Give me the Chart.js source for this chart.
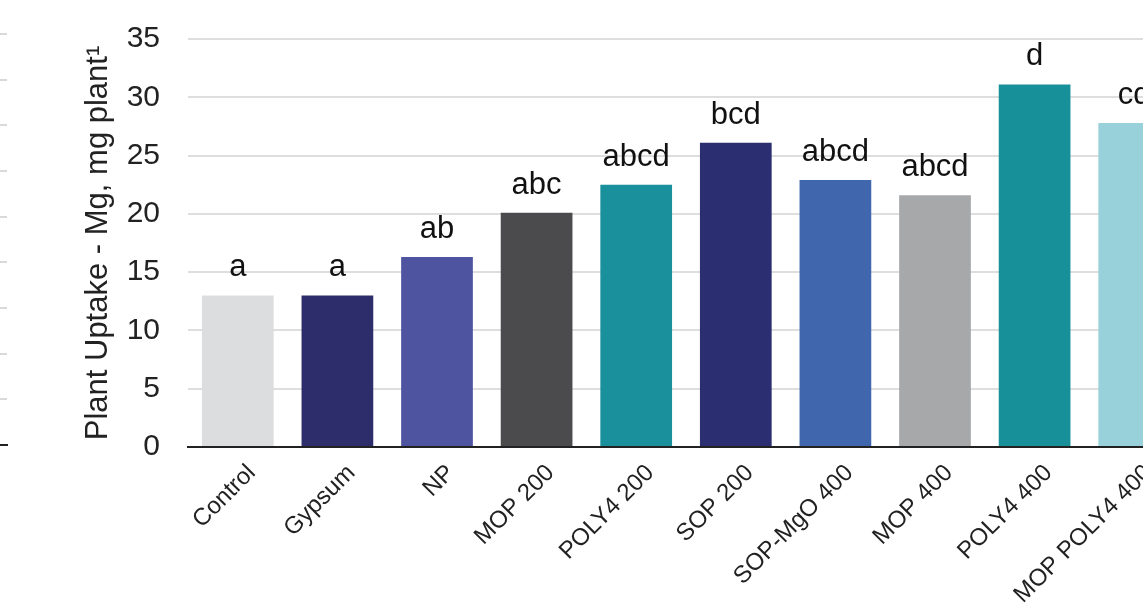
<!DOCTYPE html>
<html>
<head>
<meta charset="utf-8">
<script src="https://cdn.jsdelivr.net/npm/chart.js@4.4.1/dist/chart.umd.min.js"></script>
<style>
  html, body { margin: 0; padding: 0; background: #fff; overflow: hidden; }
  body { width: 1143px; height: 615px; position: relative; }
  #edgeWrap { position: absolute; left: -100px; top: 0; width: 108px; height: 615px; }
  #mainWrap { position: absolute; left: 0; top: 0; width: 1200px; height: 615px; }
</style>
</head>
<body>
<div id="edgeWrap"><canvas id="edge" width="108" height="615"></canvas></div>
<div id="mainWrap"><canvas id="main" width="1200" height="615"></canvas></div>
<script>
// Treatments and magnesium uptake per plant
const treatments = ['Control', 'Gypsum', 'NP', 'MOP 200', 'POLY4 200', 'SOP 200',
                    'SOP-MgO 400', 'MOP 400', 'POLY4 400', 'MOP POLY4 400'];
const mgUptake = [13.0, 13.0, 16.3, 20.1, 22.5, 26.1, 22.9, 21.6, 31.1, 27.8];
const letters = ['a', 'a', 'ab', 'abc', 'abcd', 'bcd', 'abcd', 'abcd', 'd', 'cd'];
const barColors = ['#dcdddf', '#2c2d6a', '#4e549f', '#4b4b4d', '#19909b', '#2c2e72',
                   '#4066ae', '#a7a8aa', '#18909a', '#99d1da'];
const yTicks = [0, 5, 10, 15, 20, 25, 30, 35];
// scale of the neighbouring panel whose gridlines show at the left edge
const edgeTicks = [0, 5, 10, 15, 20, 25, 30, 35, 40, 45];

const FONT = "'Liberation Sans', Arial, Helvetica, sans-serif";

// significance letters above each bar
const letterPlugin = {
  id: 'letters',
  afterDatasetsDraw(chart) {
    const ctx = chart.ctx;
    const meta = chart.getDatasetMeta(0);
    ctx.save();
    ctx.font = '31px ' + FONT;
    ctx.fillStyle = '#111';
    ctx.textAlign = 'center';
    ctx.textBaseline = 'alphabetic';
    meta.data.forEach((bar, i) => {
      ctx.fillText(letters[i], bar.x, bar.y - 19);
    });
    ctx.restore();
  }
};

new Chart(document.getElementById('main'), {
  type: 'bar',
  data: {
    labels: treatments,
    datasets: [{
      data: mgUptake,
      backgroundColor: barColors,
      borderWidth: 0,
      categoryPercentage: 1,
      barPercentage: 0.72
    }]
  },
  options: {
    responsive: false,
    animation: false,
    devicePixelRatio: 1,
    layout: { padding: { left: 0, right: 16, top: 39, bottom: 0 } },
    plugins: { legend: { display: false }, tooltip: { enabled: false } },
    scales: {
      y: {
        min: 0, max: 35,
        afterBuildTicks(scale) { scale.ticks = yTicks.map(v => ({ value: v })); },
        afterFit(scale) {
          scale.width = 188;
          scale.paddingTop = 0;
          scale.paddingBottom = 0;
        },
        border: { display: false },
        grid: { color: '#dedede', lineWidth: 2, drawTicks: false },
        ticks: { color: '#222', font: { family: FONT, size: 30 }, padding: 28 },
        title: {
          display: true,
          text: 'Plant Uptake - Mg, mg plant\u00b9',
          color: '#222',
          font: { family: FONT, size: 31 },
          padding: { top: 98 - 18.6, bottom: 0 }
        }
      },
      x: {
        afterFit(scale) { scale.height = 168; },
        border: { display: true, color: '#222', width: 2 },
        grid: { display: false, drawTicks: false },
        ticks: {
          color: '#222',
          font: { family: FONT, size: 24 },
          minRotation: 45, maxRotation: 45,
          padding: 12,
          labelOffset: 14,
          autoSkip: false
        }
      }
    }
  },
  plugins: [letterPlugin]
});

new Chart(document.getElementById('edge'), {
  type: 'bar',
  data: { labels: [''], datasets: [{ data: [0], backgroundColor: 'rgba(0,0,0,0)' }] },
  options: {
    responsive: false,
    animation: false,
    devicePixelRatio: 1,
    layout: { padding: { left: 0, right: 1, top: 34, bottom: 170 } },
    plugins: { legend: { display: false }, tooltip: { enabled: false } },
    scales: {
      y: {
        min: 0, max: 45,
        afterBuildTicks(scale) { scale.ticks = edgeTicks.map(v => ({ value: v })); },
        border: { display: false },
        grid: { color: '#d9d9d9', lineWidth: 2, drawTicks: false },
        ticks: { display: false }
      },
      x: {
        border: { display: true, color: '#222', width: 2 },
        grid: { display: false, drawTicks: false },
        ticks: { display: false }
      }
    }
  }
});
</script>
</body>
</html>
